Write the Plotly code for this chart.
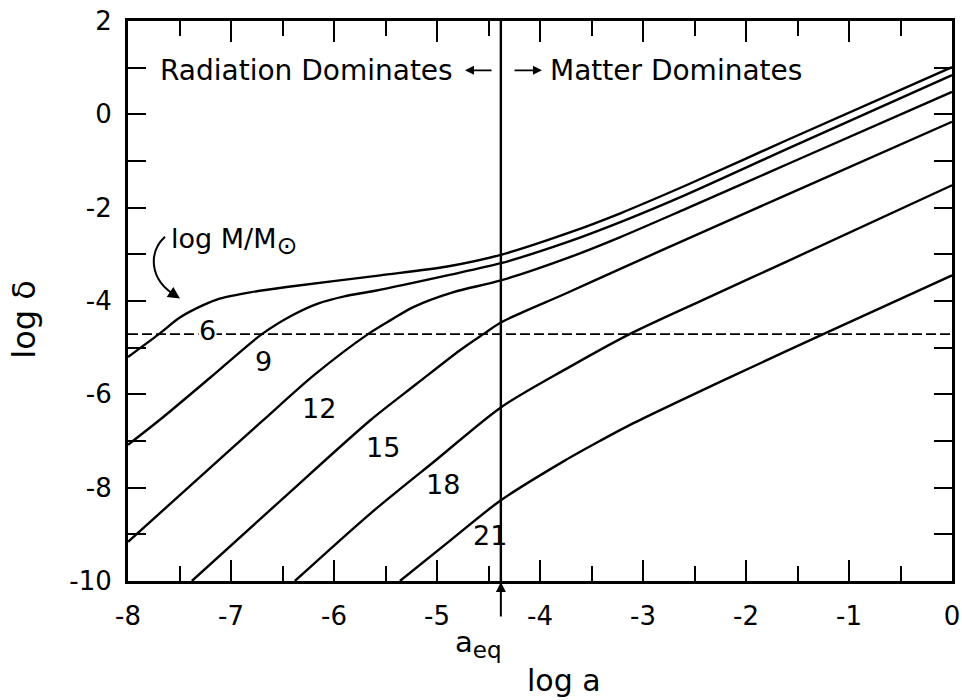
import plotly.graph_objects as go

# ---------------- data ----------------
x_tick_vals = [-8, -7, -6, -5, -4, -3, -2, -1, 0]
x_tick_labels = ["-8", "-7", "-6", "-5", "-4", "-3", "-2", "-1", "0"]
y_tick_vals = [2, 0, -2, -4, -6, -8, -10]
y_tick_labels = ["2", "0", "-2", "-4", "-6", "-8", "-10"]

mass_labels = ["6", "9", "12", "15", "18", "21"]

log_a_m6 = [-8.0, -7.70, -7.50, -7.27, -7.11, -6.80, -6.46, -5.55, -4.90, -4.38, -3.71, -3.22, -2.58, -1.60, 0.0]
log_d_m6 = [-5.20, -4.71, -4.36, -4.09, -3.95, -3.81, -3.70, -3.45, -3.26, -3.01, -2.53, -2.12, -1.52, -0.55, 1.01]

log_a_m9 = [-8.0, -7.66, -7.20, -6.70, -6.40, -6.15, -5.90, -5.60, -4.90, -4.38, -3.75, -3.22, -2.58, -1.60, 0.0]
log_d_m9 = [-7.08, -6.49, -5.64, -4.71, -4.30, -4.05, -3.90, -3.78, -3.45, -3.19, -2.75, -2.31, -1.72, -0.74, 0.84]

log_a_m12 = [-8.0, -7.30, -6.69, -6.20, -5.67, -5.45, -5.23, -4.84, -4.38, -3.71, -3.22, -2.58, -1.60, 0.0]
log_d_m12 = [-9.16, -7.77, -6.56, -5.60, -4.71, -4.41, -4.13, -3.81, -3.56, -3.06, -2.63, -2.02, -1.07, 0.48]

log_a_m15 = [-7.38, -6.50, -5.65, -5.20, -4.78, -4.55, -4.38, -3.75, -3.22, -2.58, -1.60, 0.0]
log_d_m15 = [-10.0, -8.24, -6.56, -5.78, -5.06, -4.71, -4.46, -3.84, -3.31, -2.68, -1.72, -0.16]

log_a_m18 = [-6.38, -5.65, -5.00, -4.38, -3.75, -3.13, -2.40, -1.60, 0.0]
log_d_m18 = [-10.0, -8.56, -7.39, -6.28, -5.46, -4.71, -3.96, -3.15, -1.52]

log_a_m21 = [-5.36, -4.87, -4.38, -3.76, -3.42, -3.13, -2.20, -1.25, 0.0]
log_d_m21 = [-10.0, -9.13, -8.27, -7.42, -7.00, -6.66, -5.68, -4.71, -3.45]

log_a_eq = -4.38
log_delta_level = -4.71

# ---------------- figure ----------------
FONT = "DejaVu Sans"
fig = go.Figure()

curves = [(log_a_m6, log_d_m6), (log_a_m9, log_d_m9), (log_a_m12, log_d_m12),
          (log_a_m15, log_d_m15), (log_a_m18, log_d_m18), (log_a_m21, log_d_m21)]
for (xs, ys), name in zip(curves, mass_labels):
    fig.add_trace(go.Scatter(x=xs, y=ys, mode="lines", name=name,
                             line=dict(color="black", width=2.4, shape="spline", smoothing=0.8),
                             showlegend=False, hoverinfo="skip"))

# horizontal dashed level and vertical a_eq line
fig.add_shape(type="line", xref="x", yref="y", x0=-8, x1=0, y0=log_delta_level, y1=log_delta_level,
              line=dict(color="black", width=1.8, dash="10px,4px"), layer="below")
fig.add_shape(type="line", xref="x", yref="y", x0=log_a_eq, x1=log_a_eq, y0=-10, y1=2,
              line=dict(color="black", width=2.4))

# curve labels
label_x = [-7.23, -6.68, -6.15, -5.52, -4.94, -4.485]
label_y = [-4.63, -5.29, -6.30, -7.13, -7.94, -9.02]
for i, (t, lx, ly) in enumerate(zip(mass_labels, label_x, label_y)):
    fig.add_annotation(x=lx, y=ly, xref="x", yref="y", text=t, showarrow=False,
                       xanchor="center", yanchor="middle",
                       font=dict(family=FONT, size=27, color="black"),
                       bgcolor="white" if i == 0 else None, borderpad=0)

# region texts and arrows
fig.add_annotation(x=-7.709, y=0.944, xref="x", yref="y", text="Radiation Dominates",
                   xanchor="left", yanchor="middle", showarrow=False,
                   font=dict(family=FONT, size=28, color="black"))
fig.add_annotation(x=-3.922, y=0.944, xref="x", yref="y", text="Matter Dominates",
                   xanchor="left", yanchor="middle", showarrow=False,
                   font=dict(family=FONT, size=28, color="black"))
fig.add_annotation(x=-4.728, y=0.944, ax=-4.456, ay=0.944, xref="x", yref="y", axref="x", ayref="y",
                   text="", showarrow=True, arrowhead=2, arrowsize=1, arrowwidth=1.8, arrowcolor="black",
                   standoff=0, startstandoff=0)
fig.add_annotation(x=-3.981, y=0.944, ax=-4.262, ay=0.944, xref="x", yref="y", axref="x", ayref="y",
                   text="", showarrow=True, arrowhead=2, arrowsize=1, arrowwidth=1.8, arrowcolor="black",
                   standoff=0, startstandoff=0)

# log M/Msun label with curved arrow
fig.add_annotation(x=-7.60, y=-2.72, xref="x", yref="y",
                   text="log M/M<sub><span style='font-size:25px'>⊙</span></sub>",
                   xanchor="left", yanchor="middle", showarrow=False,
                   font=dict(family=FONT, size=27, color="black"))
fig.add_shape(type="path", xref="x", yref="y",
              path="M -7.641,-2.625 C -7.80,-2.95 -7.80,-3.55 -7.53,-3.89",
              line=dict(color="black", width=2))
fig.add_annotation(x=-7.495, y=-3.948, ax=-7.545, ay=-3.875, xref="x", yref="y", axref="x", ayref="y",
                   text="", showarrow=True, arrowhead=2, arrowsize=1.2, arrowwidth=2, arrowcolor="black",
                   standoff=0, startstandoff=0)

# a_eq arrow and label below axis
fig.add_annotation(x=log_a_eq, y=-10, xref="x", yref="y", ax=0, ay=37, axref="pixel", ayref="pixel",
                   text="", showarrow=True, arrowhead=2, arrowsize=1, arrowwidth=2, arrowcolor="black",
                   standoff=1)
fig.add_annotation(x=-4.60, y=-0.112, xref="x", yref="paper", xanchor="center", yanchor="middle",
                   text="a<sub><span style='font-size:23px'>eq</span></sub>", showarrow=False,
                   font=dict(family=FONT, size=29, color="black"))

# axis titles
fig.add_annotation(x=-3.767, y=-0.177, xref="x", yref="paper", xanchor="center", yanchor="middle",
                   text="log a", showarrow=False, font=dict(family=FONT, size=30, color="black"))
fig.add_annotation(x=-0.126, y=0.467, xref="paper", yref="paper", xanchor="center", yanchor="middle",
                   text="log δ", showarrow=False, textangle=-90,
                   font=dict(family=FONT, size=32, color="black"))

fig.update_xaxes(range=[-8, 0], tickmode="array", tickvals=x_tick_vals, ticktext=x_tick_labels,
                 ticks="inside", ticklen=21, tickwidth=2.2, tickcolor="black",
                 showline=True, linewidth=3, linecolor="black", mirror="ticks",
                 showgrid=False, zeroline=False, ticklabelstandoff=10,
                 tickfont=dict(family=FONT, size=26, color="black"),
                 minor=dict(dtick=0.5, ticks="inside", ticklen=15, tickwidth=2.2, tickcolor="black", showgrid=False))
fig.update_yaxes(range=[-10, 2], tickmode="array", tickvals=y_tick_vals, ticktext=y_tick_labels,
                 ticks="inside", ticklen=18, tickwidth=2.2, tickcolor="black",
                 showline=True, linewidth=3, linecolor="black", mirror="ticks",
                 showgrid=False, zeroline=False, ticklabelstandoff=8,
                 tickfont=dict(family=FONT, size=26, color="black"),
                 minor=dict(dtick=1, ticks="inside", ticklen=18, tickwidth=2.2, tickcolor="black", showgrid=False))

fig.update_layout(width=962, height=700, margin=dict(l=128, r=10, t=21, b=119, autoexpand=False),
                  plot_bgcolor="white", paper_bgcolor="white", showlegend=False,
                  font=dict(family=FONT, color="black"))

# remove the default 8px page margin so the figure fills the 962x700 window exactly
fig.write_html("out.html", config={"displayModeBar": False},
               post_script="document.body.style.margin='0';document.body.style.overflow='hidden';")
